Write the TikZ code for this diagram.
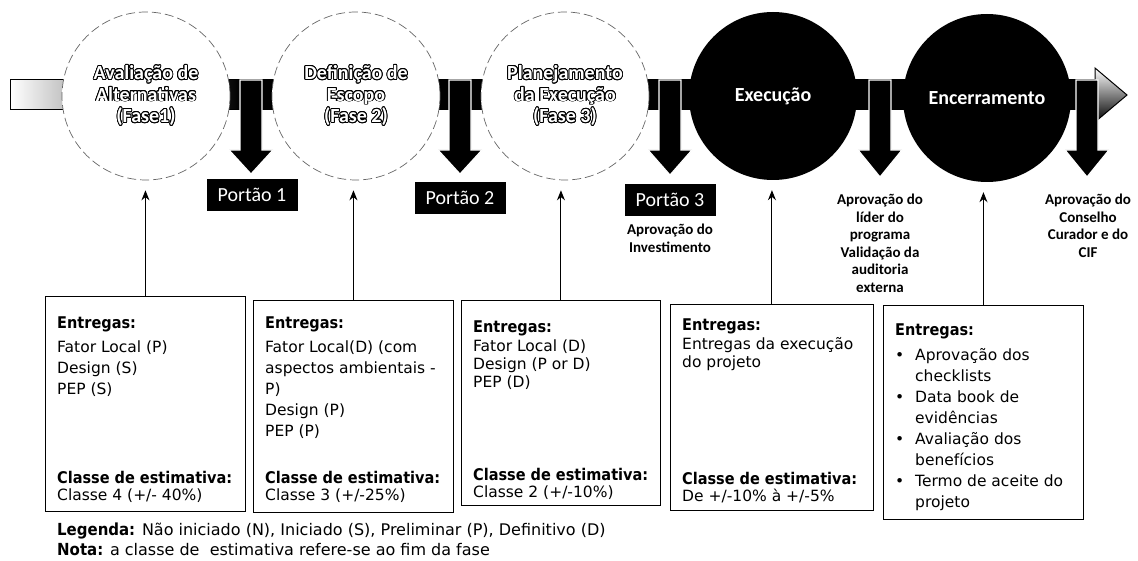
\documentclass[tikz,border=0pt]{standalone}
\usepackage{fontspec}
\setmainfont{DejaVu Sans}[BoldFont={DejaVu Sans Condensed Bold},BoldFeatures={Scale=1.04}]
\newfontfamily\carl{Carlito}
\usepackage{contour}
\contourlength{0.9pt}
\usetikzlibrary{arrows.meta}
\begin{document}
\begin{tikzpicture}[x=1pt,y=-1pt,
 phase/.style={circle, minimum size=168pt, inner sep=0pt, align=center, font=\carl\bfseries\fontsize{20}{21.5}\selectfont},
 light/.style={phase, fill=white, draw=black!60, line width=0.7pt, dash pattern=on 9pt off 4pt, text=white},
 dark/.style={phase, fill=black, text=white},
 gate/.style={fill=black, text=white, font=\carl\fontsize{20}{22}\selectfont, minimum width=91pt, minimum height=32pt, inner sep=0pt},
 gatenote/.style={align=center, inner sep=0pt, anchor=north, font=\carl\bfseries\fontsize{15}{17.5}\selectfont},
 downarrow/.style={fill=black, draw=white, line width=1.2pt},
 card/.style={draw=black, line width=0.9pt, anchor=north west, inner sep=0pt},
 cardtext/.style={anchor=north west, align=left, inner sep=0pt, font=\fontsize{15.5}{21}\selectfont},
 cardtextb/.style={cardtext, font=\fontsize{15.5}{18}\selectfont},
 classtext/.style={anchor=north west, align=left, inner sep=0pt, font=\fontsize{15.5}{17}\selectfont},
 legendtext/.style={anchor=west, inner sep=0pt, font=\fontsize{16}{18}\selectfont},
 upar/.style={-{Stealth[length=10pt,width=8pt]}, line width=1pt, shorten >=10pt},
]
\useasboundingbox (0,0) rectangle (1138,561);

% main timeline arrow
\shade[left color=white, right color=black] (10,80) rectangle (240,110);
\fill[black] (240,80) rectangle (1096,110);
\draw[line width=1pt] (1096,80) -- (10,80) -- (10,110) -- (1096,110);
\shade[top color=white, bottom color=black, draw=black, line width=1pt]
  (1095,68) -- (1127,95) -- (1095,122) -- cycle;

% phases
\node[light] (c1) at (146,96) {\contour{black}{Avaliação de}\\\contour{black}{Alternativas}\\\contour{black}{(Fase1)}};
\node[light] (c2) at (356,96) {\contour{black}{Definição de}\\\contour{black}{Escopo}\\\contour{black}{(Fase 2)}};
\node[light] (c3) at (565,96) {\contour{black}{Planejamento}\\\contour{black}{da Execução}\\\contour{black}{(Fase 3)}};
\node[dark] (c4) at (773,96) {Execução};
\node[dark] (c5) at (987,98) {Encerramento};

% gate arrows
\foreach \cx/\tip in {251/174, 460/174, 670/175, 880/177, 1087/177}{
  \draw[downarrow] (\cx-11,80) -- (\cx+11,80) -- (\cx+11,150) -- (\cx+22,150)
     -- (\cx,\tip) -- (\cx-22,150) -- (\cx-11,150) -- cycle;
}

\node[gate] (g1) at (252,195) {Portão 1};
\node[gate] (g2) at (460,198) {Portão 2};
\node[gate] (g3) at (670,200) {Portão 3};
\node[gatenote] (n3) at (670,224) {Aprovação do\\Investimento};
\node[gatenote] (n4) at (880,194) {Aprovação do\\líder do\\programa\\Validação da\\auditoria\\externa};
\node[gatenote] (n5) at (1088,194) {Aprovação do\\Conselho\\Curador e do\\CIF};

% cards
\node[card, minimum width=200pt, minimum height=215pt] (b1) at (45,296) {};
\node[card, minimum width=200pt, minimum height=212pt] (b2) at (253,300) {};
\node[card, minimum width=199pt, minimum height=205pt] (b3) at (461,300) {};
\node[card, minimum width=203pt, minimum height=206pt] (b4) at (670,304) {};
\node[card, minimum width=200pt, minimum height=214pt] (b5) at (883,305) {};

\node[cardtext] (t1) at (57,317) {\textbf{Entregas:}\\[3pt]Fator Local (P)\\Design (S)\\PEP (S)};
\node[cardtext] (t2) at (265,317) {\textbf{Entregas:}\\[3pt]Fator Local(D) (com\\aspectos ambientais -\\P)\\Design (P)\\PEP (P)};
\node[cardtextb] (t3) at (473,321) {\textbf{Entregas:}\\[1pt]Fator Local (D)\\Design (P or D)\\PEP (D)};
\node[cardtextb] (t4) at (682,319) {\textbf{Entregas:}\\[1pt]Entregas da execução\\do projeto};
\node[cardtext] (t5) at (895,324) {\textbf{Entregas:}\\[4pt]%
\makebox[20pt][l]{\textbullet}Aprovação dos\\\hspace*{20pt}checklists\\%
\makebox[20pt][l]{\textbullet}Data book de\\\hspace*{20pt}evidências\\%
\makebox[20pt][l]{\textbullet}Avaliação dos\\\hspace*{20pt}benefícios\\%
\makebox[20pt][l]{\textbullet}Termo de aceite do\\\hspace*{20pt}projeto};

\node[classtext] (k1) at (57,471) {\textbf{Classe de estimativa:}\\Classe 4 (+/- 40\%)};
\node[classtext] (k2) at (265,471) {\textbf{Classe de estimativa:}\\Classe 3 (+/-25\%)};
\node[classtext] (k3) at (473,468) {\textbf{Classe de estimativa:}\\Classe 2 (+/-10\%)};
\node[classtext] (k4) at (682,472) {\textbf{Classe de estimativa:}\\De +/-10\% à +/-5\%};

% deliverable arrows
\foreach \i in {1,...,5}{
  \draw[upar] (b\i.north) -- (b\i.north |- c\i.south);
}

% legend
\node[legendtext] (leg) at (57,531) {\textbf{Legenda:} Não iniciado (N), Iniciado (S), Preliminar (P), Definitivo (D)};
\node[legendtext] (nota) at (57,550) {\textbf{Nota:} a classe de\ \ estimativa refere-se ao fim da fase};
\end{tikzpicture}
\end{document}
